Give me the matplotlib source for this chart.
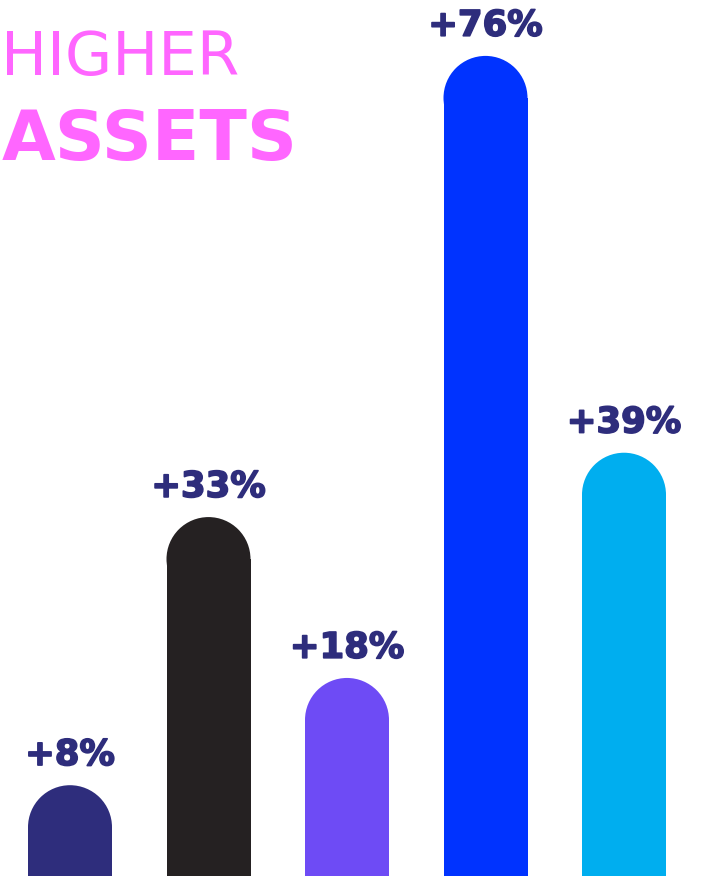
import matplotlib.pyplot as plt
import matplotlib.patheffects as pe
from matplotlib.patches import Ellipse

# growth per group, in percent
values = [8, 33, 18, 76, 39]
labels = ['+8%', '+33%', '+18%', '+76%', '+39%']
colors = ['#2E2D7C', '#252122', '#6E4BF5', '#0033FF', '#00AEEF']

label_color = '#2E2D7C'
title_color = '#FF66FF'

W, H = 703, 876
fig = plt.figure(figsize=(W / 100, H / 100), dpi=100)
ax = fig.add_axes([0, 0, 1, 1])

# pixel scale of the data axes
px_x = 138.5      # pixels per bar slot
px_y = 10.725     # pixels per percent
x0 = 70           # first bar centre, px
base = 5          # baseline sits a bit below the bottom edge

ax.set_xlim(-x0 / px_x, (W - x0) / px_x)
ax.set_ylim(-base / px_y, (H - base) / px_y)
ax.axis('off')

bar_w = 84 / px_x
cap_h = 84 / px_y
r_y = cap_h / 2

xs = list(range(len(values)))
# rectangles start below the frame, round cap on top reaches the value
ax.bar(xs, [v - r_y + 5 for v in values], width=bar_w, color=colors,
       bottom=-5, linewidth=0)
heavy = [pe.withStroke(linewidth=1.2, foreground=label_color)]
for x, v, c, lab in zip(xs, values, colors, labels):
    ax.add_patch(Ellipse((x, v - r_y), bar_w, cap_h, color=c, linewidth=0))
    ax.annotate(lab, (x, v), xytext=(0, 14.5), textcoords='offset points',
                ha='center', va='baseline', fontsize=25.5,
                fontweight='bold', color=label_color, path_effects=heavy)

fig.text(0.002, 1 - 75 / H, 'HIGHER', fontsize=44, color=title_color,
         ha='left', va='baseline')
fig.text(0.002, 1 - 160 / H, 'ASSETS', fontsize=50, fontweight='bold',
         color=title_color, ha='left', va='baseline')

fig.savefig('out.png', dpi=100)
